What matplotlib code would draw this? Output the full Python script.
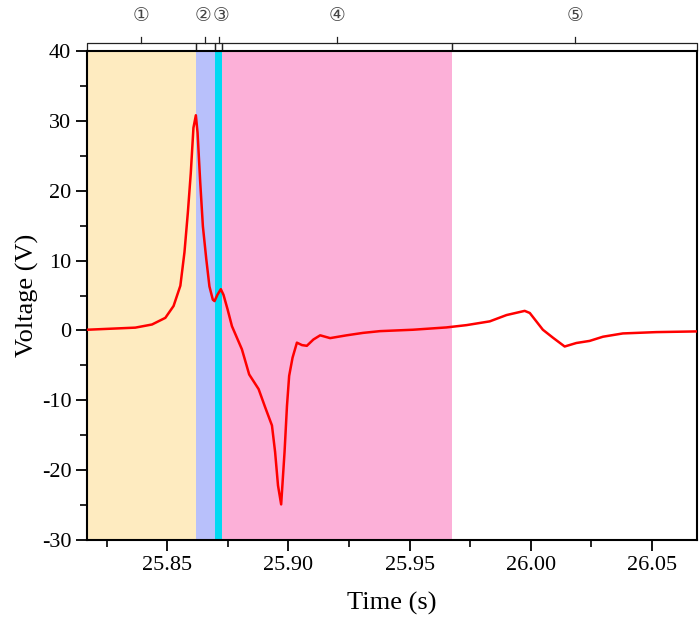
import numpy as np
import matplotlib
matplotlib.use("Agg")
import matplotlib.pyplot as plt
from matplotlib.ticker import MultipleLocator
import matplotlib.transforms as mtransforms


# Spannungsverlauf
zeit = [25.8170, 25.8368, 25.8437, 25.8492, 25.8526, 25.8554, 25.8571, 25.8585,
        25.8597, 25.8608, 25.8618, 25.8625, 25.8636, 25.8647, 25.8661, 25.8674,
        25.8688, 25.8695, 25.8707, 25.8721, 25.8732, 25.8749, 25.8767, 25.8808,
        25.8838, 25.8877, 25.8904, 25.8932, 25.8945, 25.8957, 25.8970, 25.8984,
        25.8994, 25.9003, 25.9017, 25.9035, 25.9056, 25.9076, 25.9103, 25.9131,
        25.9172, 25.9240, 25.9308, 25.9378, 25.9514, 25.9652, 25.9735, 25.9831,
        25.9900, 25.9975, 25.9996, 26.0050, 26.0092, 26.0140, 26.0188, 26.0243,
        26.0298, 26.0380, 26.0518, 26.0686]
spannung = [0.1, 0.4, 0.85, 1.8, 3.5, 6.4, 11.2, 16.9,
            22.5, 29.0, 30.8, 28.3, 21.2, 14.9, 10.2, 6.3,
            4.4, 4.2, 5.1, 5.9, 5.1, 3.0, 0.6, -2.7,
            -6.3, -8.4, -11.0, -13.6, -17.4, -22.2, -24.9, -17.4,
            -10.8, -6.5, -3.9, -1.75, -2.1, -2.2, -1.3, -0.7,
            -1.1, -0.7, -0.35, -0.1, 0.1, 0.43, 0.76, 1.3,
            2.2, 2.8, 2.5, 0.1, -1.05, -2.3, -1.8, -1.5,
            -0.9, -0.43, -0.24, -0.14]

# Phasengrenzen
grenzen = [25.8170, 25.8617, 25.8696, 25.8727, 25.9676, 26.0686]
farben = ["#FEEBC0", "#B8C0FB", "#00D9F2", "#FCB0D8", None]
phasen = ["\u2460", "\u2461", "\u2462", "\u2463", "\u2464"]


def main():
    plt.rcParams["font.family"] = ["Liberation Serif", "DejaVu Serif"]
    plt.rcParams["axes.unicode_minus"] = False
    fig = plt.figure(figsize=(6.99, 6.21), dpi=100)
    ax = fig.add_axes([0.1249, 0.1304, 0.8722, 0.7875])

    for i in range(len(phasen)):
        if farben[i] is not None:
            ax.axvspan(grenzen[i], grenzen[i + 1], color=farben[i], lw=0, zorder=0)

    ax.plot(zeit, spannung, color="#FF0000", lw=1.8, zorder=3)

    ax.set_xlim(grenzen[0], grenzen[-1])
    ax.set_ylim(-30, 40)
    ax.xaxis.set_major_locator(MultipleLocator(0.05))
    ax.xaxis.set_minor_locator(MultipleLocator(0.025))
    ax.yaxis.set_major_locator(MultipleLocator(10))
    ax.yaxis.set_minor_locator(MultipleLocator(5))
    ax.xaxis.set_major_formatter(plt.FormatStrFormatter("%.2f"))
    ax.tick_params(which="major", direction="out", length=8, width=1.3, labelsize=16)
    ax.tick_params(which="minor", direction="out", length=5, width=1.2)
    for s in ax.spines.values():
        s.set_linewidth(1.5)

    ax.set_xlabel("Time (s)", fontsize=19, labelpad=12)
    ax.set_ylabel("Voltage (V)", fontsize=19, labelpad=2)

    # Klammern ueber den Phasen
    trans = mtransforms.blended_transform_factory(ax.transData, ax.transAxes)
    y_h, y_end, y_top, y_txt = 1.0164, 1.003, 1.0286, 1.0716
    versatz = [0, -1.5, 2, 0, 0]
    for i in range(len(phasen)):
        a, b = grenzen[i], grenzen[i + 1]
        m = (a + b) / 2
        ax.plot([a, a, b, b], [y_end, y_h, y_h, y_end], color="#222222", lw=0.9,
                transform=trans, clip_on=False)
        ax.plot([m, m], [y_h, y_top], color="#222222", lw=0.9,
                transform=trans, clip_on=False)
        ax.annotate(phasen[i], xy=(m, y_txt), xycoords=trans,
                    xytext=(versatz[i], 0), textcoords="offset points",
                    ha="center", va="center", fontsize=13.5, color="#444444",
                    family=["DejaVu Sans"])

    fig.savefig("out.png", dpi=100)


if __name__ == "__main__":
    main()
